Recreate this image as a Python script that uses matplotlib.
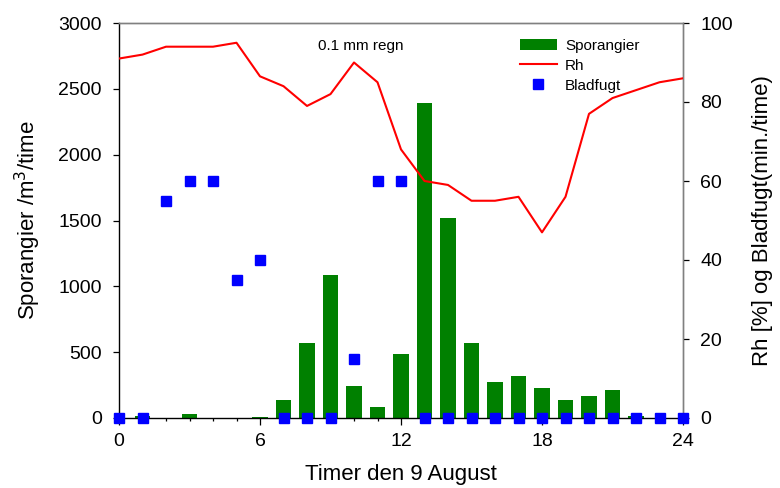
import matplotlib
matplotlib.use('Agg')
import matplotlib.pyplot as plt
from matplotlib.ticker import MultipleLocator

plt.rcParams['font.family'] = ['Liberation Sans', 'DejaVu Sans']

# Hourly measurements, 9 August
hours = list(range(25))
sporangier = [0, 15, 0, 30, 0, 0, 8, 136, 573, 1085, 240, 80, 485, 2390,
              1520, 568, 277, 320, 227, 133, 169, 209, 15, 0, 0]
rh = [91, 92, 94, 94, 94, 95, 86.5, 84, 79, 82, 90, 85, 68, 60,
      59, 55, 55, 56, 47, 56, 77, 81, 83, 85, 86]
bladfugt = [0, 0, 55, 60, 60, 35, 40, 0, 0, 0, 15, 60, 60, 0,
            0, 0, 0, 0, 0, 0, 0, 0, 0, 0, 0]

fig = plt.figure(figsize=(7.8, 4.88), dpi=100)
ax1 = fig.add_axes([119 / 780, 1 - 418 / 488, 564 / 780, 395 / 488])
ax2 = ax1.twinx()

bars = ax1.bar(hours, sporangier, width=0.65, color='#008000',
               edgecolor='none', label='Sporangier', zorder=2)
line, = ax2.plot(hours, rh, color='#ff0000', lw=1.5, label='Rh', zorder=3)
pts, = ax2.plot(hours, bladfugt, ls='none', marker='s', ms=7.3,
                color='#0000ff', mec='#0000ff', label='Bladfugt',
                clip_on=False, zorder=4)

ax1.set_xlim(0, 24)
ax1.set_ylim(0, 3000)
ax2.set_ylim(0, 100)

ax1.xaxis.set_major_locator(MultipleLocator(6))
ax1.xaxis.set_minor_locator(MultipleLocator(1))
ax1.yaxis.set_major_locator(MultipleLocator(500))
ax2.yaxis.set_major_locator(MultipleLocator(20))

ax1.tick_params(axis='x', which='major', direction='out', length=5,
                width=0.9, pad=6, labelsize=14)
ax1.tick_params(axis='x', which='minor', direction='out', length=2.5,
                width=0.9)
ax1.tick_params(axis='y', direction='out', length=4.5, width=0.9,
                pad=8, labelsize=14, right=False)
ax2.tick_params(axis='y', direction='out', length=4.5, width=0.9,
                pad=8, labelsize=14)

for ax in (ax1, ax2):
    ax.spines['top'].set_color('#808080')
    ax.spines['right'].set_color('#808080')
    for s in ax.spines.values():
        s.set_linewidth(1.0)
ax2.spines['left'].set_visible(False)
ax2.spines['bottom'].set_visible(False)

ax1.set_xlabel('Timer den 9 August', fontsize=16, labelpad=10)
ax1.set_ylabel('Sporangier /m$^3$/time', fontsize=16, labelpad=11)
ax2.set_ylabel('Rh [%] og Bladfugt(min./time)', fontsize=16, labelpad=14)

ax1.text(10.27, 2826, '0.1 mm regn', fontsize=11, ha='center', va='center')

ax2.legend([bars, line, pts], ['Sporangier', 'Rh', 'Bladfugt'],
           loc='upper left', bbox_to_anchor=((520 - 119) / 564, (418 - 39) / 395),
           frameon=False, fontsize=11, borderpad=0, borderaxespad=0,
           handlelength=2.4, handletextpad=0.55, labelspacing=0.38)

fig.savefig('out.png', dpi=100)
